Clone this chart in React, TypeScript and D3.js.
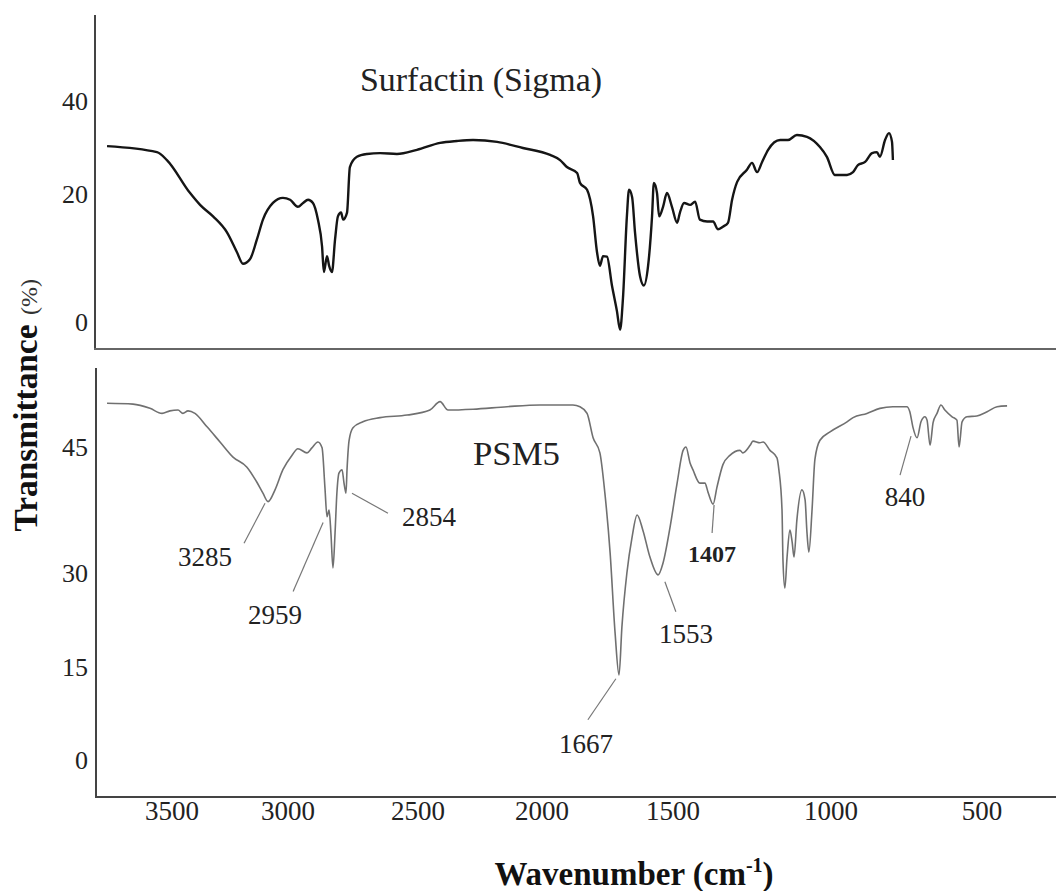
import React from "react";
import * as d3 from "d3";

// ---------- data ----------
const xTicks = [3500, 3000, 2500, 2000, 1500, 1000, 500];
const topTicks = [0, 20, 40];
const bottomTicks = [0, 15, 30, 45];

const surfactinWavenumber = [
  3780, 3565, 3522, 3422, 3379, 3323, 3263, 3220, 3194, 3164, 3134, 3108, 3065, 3022,
  2992, 2962, 2942, 2923, 2904, 2885, 2869, 2862, 2850, 2842, 2831, 2819, 2808, 2796,
  2788, 2773, 2762, 2735, 2696, 2646, 2581, 2504, 2411, 2343, 2278, 2181, 2077, 1969,
  1931, 1905, 1866, 1855, 1828, 1805, 1790, 1779, 1767, 1752, 1733, 1714, 1702, 1691,
  1676, 1668, 1656, 1645, 1626, 1611, 1595, 1580, 1573, 1561, 1553, 1538, 1523, 1504,
  1487, 1478, 1465, 1446, 1430, 1415, 1392, 1373, 1358, 1342, 1326, 1313, 1297, 1266,
  1250, 1234, 1218, 1199, 1161, 1136, 1108, 1076, 1035, 1013, 987, 947, 927, 911, 887,
  864, 848, 838, 821, 808, 798, 795,
];
const surfactinT = [
  30.3, 29.0, 27.3, 20.2, 18.3, 16.5, 14.0, 10.9, 9.1, 9.8, 12.9, 16.0, 18.6, 19.4,
  19.1, 18.0, 18.6, 19.1, 18.6, 16.0, 11.8, 7.8, 10.3, 8.8, 7.8, 12.9, 16.5, 17.1,
  16.0, 17.1, 25.8, 28.0, 28.6, 28.8, 28.6, 29.5, 31.0, 31.4, 31.6, 31.2, 29.9, 28.4,
  27.3, 25.8, 24.5, 22.4, 20.9, 16.5, 10.9, 8.8, 10.3, 10.2, 5.7, 1.7, -1.2, 3.7,
  16.5, 20.9, 19.5, 14.0, 7.2, 5.7, 8.8, 16.5, 22.4, 20.2, 16.5, 18.0, 20.2, 18.0,
  15.5, 17.1, 18.6, 18.3, 18.8, 16.0, 15.7, 15.7, 14.5, 14.9, 15.5, 19.1, 22.6, 25.2,
  26.7, 24.7, 26.9, 29.5, 31.6, 31.6, 32.7, 32.3, 30.1, 28.0, 24.1, 24.1, 24.7, 26.2, 26.9,
  28.8, 29.0, 28.0, 31.6, 33.1, 31.2, 27.3,
];

const psm5Wavenumber = [
  3780, 3668, 3595, 3543, 3509, 3474, 3453, 3431, 3401, 3349, 3293, 3237, 3177, 3134,
  3108, 3086, 3056, 3022, 2985, 2962, 2927, 2908, 2885, 2869, 2858, 2850, 2842, 2835,
  2827, 2819, 2812, 2804, 2792, 2785, 2777, 2773, 2765, 2750, 2712, 2646, 2542, 2452,
  2411, 2379, 2278, 2141, 2008, 1931, 1882, 1855, 1828, 1805, 1779, 1760, 1740, 1721,
  1706, 1695, 1676, 1656, 1637, 1615, 1588, 1557, 1538, 1511, 1487, 1468, 1459, 1446,
  1437, 1415, 1399, 1389, 1373, 1361, 1342, 1320, 1288, 1279, 1256, 1247, 1225, 1215,
  1193, 1171, 1165, 1155, 1152, 1146, 1139, 1130, 1123, 1117, 1108, 1092, 1082, 1076,
  1070, 1060, 1051, 1035, 1003, 947, 927, 881, 838, 795, 749, 739, 729, 715, 702, 689,
  682, 672, 662, 649, 636, 623, 599, 583, 576, 566, 550, 517, 483, 450, 417,
];
const psm5T = [
  50.2, 50.1, 49.6, 49.0, 49.3, 49.4, 49.0, 49.3, 49.0, 47.4, 45.6, 43.8, 42.6, 40.8,
  39.5, 38.5, 39.9, 42.3, 44.0, 44.8, 44.3, 44.9, 45.6, 44.9, 40.2, 36.7, 37.5, 34.8,
  30.6, 34.8, 39.5, 41.9, 42.3, 40.8, 39.5, 42.3, 45.8, 47.3, 48.0, 48.5, 48.8, 49.4,
  50.4, 49.4, 49.5, 49.8, 50.0, 50.0, 50.0, 49.8, 49.0, 46.1, 44.3, 39.5, 32.4, 20.4,
  13.7, 21.4, 30.0, 34.3, 36.9, 35.1, 31.9, 29.7, 31.2, 35.5, 40.7, 44.6, 45.0, 43.1,
  42.3, 40.7, 40.7, 39.6, 38.2, 40.2, 42.9, 44.0, 44.6, 44.3, 45.2, 45.7, 45.5, 45.6,
  44.6, 43.7, 42.3, 37.5, 31.5, 27.6, 31.9, 35.1, 33.7, 31.9, 36.3, 39.9, 38.7, 34.8,
  32.5, 37.5, 43.5, 45.8, 46.8, 48.0, 48.5, 49.0, 49.6, 49.8, 49.8, 49.2, 47.4, 46.1, 48.0, 48.6,
  48.2, 45.2, 47.9, 49.0, 50.0, 49.4, 48.6, 48.2, 45.0, 48.0, 48.6, 48.7, 49.2, 49.8, 49.9,
];

// peak annotations (leader starts at the peak, in data units)
const peakLabels = ["3285", "2959", "2854", "1667", "1553", "1407", "840"];
const peakWavenumber = [3099, 2865, 2754, 1718, 1531, 1370, 735];
const peakT = [38.3, 36.0, 39.5, 13.1, 28.6, 38.1, 46.3];

// ---------- layout ----------
const W = 1056;
const H = 891;
const xTickPx = [172, 288, 418, 542, 673, 831, 982];
const topTickPx = [322, 194, 101];
const bottomTickPx = [760, 667, 573, 447];
// leader end offset [dx, dy] and label (center x, baseline y) offset from the peak
const leaderEnd = [[-21, 40], [-30, 69], [36, 20], [-28, 41], [11, 30], [-2, 28], [-11, 39]];
const labelOff = [[-60, 63], [-48, 101], [77, 33], [-30, 74], [21, 61], [-2, 57], [-6, 70]];

const FONT = "'Liberation Serif', 'Times New Roman', Times, serif";

export default function App() {
  const x = d3.scaleLinear().domain(xTicks).range(xTickPx);
  const yTop = d3.scaleLinear().domain(topTicks).range(topTickPx);
  const yBot = d3.scaleLinear().domain(bottomTicks).range(bottomTickPx);

  const topPts = surfactinWavenumber.map((w, i) => [w, surfactinT[i]] as [number, number]);
  const botPts = psm5Wavenumber.map((w, i) => [w, psm5T[i]] as [number, number]);

  const lineTop = d3
    .line<[number, number]>()
    .x((d) => x(d[0]))
    .y((d) => yTop(d[1]))
    .curve(d3.curveMonotoneX);
  const lineBot = d3
    .line<[number, number]>()
    .x((d) => x(d[0]))
    .y((d) => yBot(d[1]))
    .curve(d3.curveMonotoneX);

  return (
    <svg
      width={W}
      height={H}
      style={{ position: "absolute", left: 0, top: 0, background: "#fff" }}
      fontFamily={FONT}
    >
      <rect x={0} y={0} width={W} height={H} fill="#fff" />

      {/* frames */}
      <line x1={95} y1={15} x2={95} y2={349} stroke="#444" strokeWidth={2} />
      <line x1={94} y1={349} x2={W} y2={349} stroke="#666" strokeWidth={2} />
      <line x1={96} y1={368} x2={96} y2={797} stroke="#444" strokeWidth={2} />
      <line x1={95} y1={797} x2={W} y2={797} stroke="#444" strokeWidth={2} />

      {/* y tick labels */}
      {topTicks.map((t) => (
        <text key={"tt" + t} x={88} y={yTop(t)} dy="0.35em" textAnchor="end" fontSize={26} fill="#222">
          {t}
        </text>
      ))}
      {bottomTicks.map((t) => (
        <text key={"bt" + t} x={88} y={yBot(t)} dy="0.35em" textAnchor="end" fontSize={26} fill="#222">
          {t}
        </text>
      ))}

      {/* x tick labels */}
      {xTicks.map((t) => (
        <text key={"xt" + t} x={x(t)} y={820} textAnchor="middle" fontSize={27} fill="#222">
          {t}
        </text>
      ))}

      {/* curves */}
      <path d={lineTop(topPts) || ""} fill="none" stroke="#151515" strokeWidth={2.4} strokeLinejoin="round" />
      <path d={lineBot(botPts) || ""} fill="none" stroke="#707070" strokeWidth={1.6} strokeLinejoin="round" />

      {/* peak annotations */}
      {peakLabels.map((lab, i) => {
        const px = x(peakWavenumber[i]);
        const py = yBot(peakT[i]);
        return (
          <g key={"pk" + lab}>
            <line
              x1={px}
              y1={py}
              x2={px + leaderEnd[i][0]}
              y2={py + leaderEnd[i][1]}
              stroke="#777"
              strokeWidth={1.2}
            />
            <text
              x={px + labelOff[i][0]}
              y={py + labelOff[i][1]}
              textAnchor="middle"
              fontSize={lab === "1407" ? 24 : 27}
              fontWeight={lab === "1407" ? "bold" : "normal"}
              fill="#222"
            >
              {lab}
            </text>
          </g>
        );
      })}

      {/* panel titles */}
      <text x={360} y={91} fontSize={34} fill="#222" textLength={242} lengthAdjust="spacingAndGlyphs">
        Surfactin (Sigma)
      </text>
      <text x={473} y={465} fontSize={34} fill="#222" textLength={87} lengthAdjust="spacingAndGlyphs">
        PSM5
      </text>

      {/* axis titles */}
      <text
        transform="translate(37,428) rotate(-90)"
        textAnchor="middle"
        fontSize={33}
        fontWeight="bold"
        fill="#111"
        textLength={207}
        lengthAdjust="spacingAndGlyphs"
      >
        Transmittance
      </text>
      <text transform="translate(37,297) rotate(-90)" textAnchor="middle" fontSize={24} fill="#333">
        (%)
      </text>
      <text x={634} y={885} textAnchor="middle" fontSize={33} fontWeight="bold" fill="#111">
        Wavenumber (cm
        <tspan fontSize={20} dy={-13}>-1</tspan>
        <tspan dy={13}>)</tspan>
      </text>
    </svg>
  );
}
